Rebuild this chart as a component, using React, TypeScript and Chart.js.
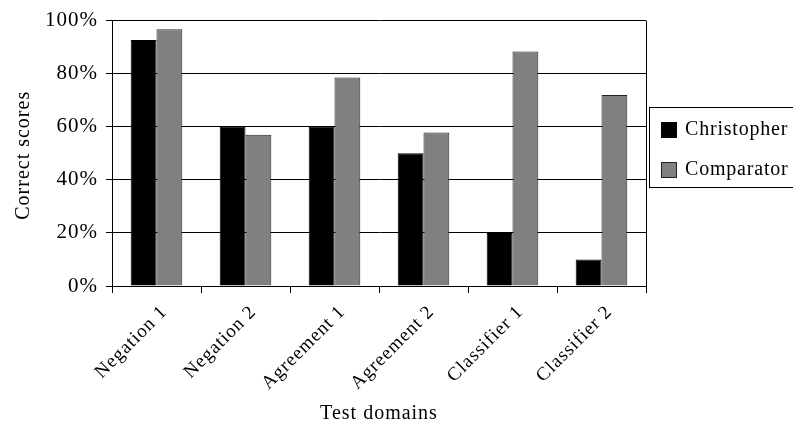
import React, { useEffect, useRef } from "react";
import { Chart, registerables } from "chart.js";

Chart.register(...registerables);

const categories = ["Negation 1", "Negation 2", "Agreement 1", "Agreement 2", "Classifier 1", "Classifier 2"];
const christopher = [92.7, 60, 60, 50, 20, 10];
const comparator = [96.7, 57, 78.6, 57.8, 88.4, 72];
const seriesNames = ["Christopher", "Comparator"];
const yTicks = [0, 20, 40, 60, 80, 100];
const yTitle = "Correct scores";
const xTitle = "Test domains";

const FONT = "'Liberation Serif', 'Times New Roman', serif";
const SPACING = "1px";

const spacingPlugin = {
  id: "spacing",
  beforeUpdate(chart: any) {
    chart.ctx.letterSpacing = SPACING;
  },
  beforeLayout(chart: any) {
    chart.ctx.letterSpacing = SPACING;
  },
  beforeDraw(chart: any) {
    chart.ctx.letterSpacing = SPACING;
  },
};

const framePlugin = {
  id: "frame",
  afterDraw(chart: any) {
    const ctx = chart.ctx;
    const a = chart.chartArea;
    ctx.save();
    ctx.strokeStyle = "#000";
    ctx.lineWidth = 1;
    // right border of plot
    ctx.beginPath();
    ctx.moveTo(Math.round(a.right) + 0.5, a.top);
    ctx.lineTo(Math.round(a.right) + 0.5, a.bottom);
    ctx.stroke();

    // y axis title
    ctx.save();
    ctx.letterSpacing = SPACING;
    ctx.font = `20px ${FONT}`;
    ctx.fillStyle = "#000";
    ctx.textAlign = "center";
    ctx.textBaseline = "middle";
    ctx.translate(24, (a.top + a.bottom) / 2 + 2);
    ctx.rotate(-Math.PI / 2);
    ctx.fillText(yTitle, 0, 0);
    ctx.restore();

    // legend box
    const bx = a.right + 3;
    const by = 107.5;
    const bw = 200;
    const bh = 80;
    ctx.strokeStyle = "#000";
    ctx.strokeRect(Math.round(bx) + 0.5, by, bw, bh);
    ctx.letterSpacing = "0.8px";
    ctx.font = `20px ${FONT}`;
    ctx.textBaseline = "middle";
    ctx.textAlign = "left";
    chart.data.datasets.forEach((ds: any, i: number) => {
      const sy = 122 + i * 40;
      ctx.fillStyle = ds.backgroundColor;
      ctx.fillRect(bx + 12, sy, 16, 16);
      ctx.strokeStyle = ds.borderColor;
      ctx.strokeRect(bx + 12.5, sy + 0.5, 15, 15);
      ctx.fillStyle = "#000";
      ctx.fillText(ds.label, bx + 36, sy + 8);
    });
    ctx.restore();
  },
};

export default function App() {
  const ref = useRef<HTMLCanvasElement>(null);
  useEffect(() => {
    if (!ref.current) return;
    const chart = new Chart(ref.current, {
      type: "bar",
      data: {
        labels: categories,
        datasets: [
          {
            label: seriesNames[0],
            data: christopher,
            backgroundColor: "#000000",
            borderColor: "#000000",
            borderWidth: 1,
            categoryPercentage: 0.58,
            barPercentage: 1,
          },
          {
            label: seriesNames[1],
            data: comparator,
            backgroundColor: "#808080",
            borderColor: "#222222",
            borderWidth: 1,
            categoryPercentage: 0.58,
            barPercentage: 1,
          },
        ],
      },
      options: {
        responsive: false,
        animation: false,
        devicePixelRatio: 1,
        layout: { padding: { left: 0, top: 15, right: 147, bottom: 0 } },
        plugins: {
          legend: { display: false },
          tooltip: { enabled: false },
        },
        scales: {
          x: {
            afterFit(scale: any) {
              scale.height = 142;
            },
            grid: {
              display: true,
              drawOnChartArea: false,
              drawTicks: true,
              tickLength: 7,
              color: "#000",
              lineWidth: 1,
              offset: true,
            },
            border: { display: true, color: "#000", width: 1 },
            ticks: {
              color: "#000",
              font: { family: FONT, size: 19 },
              minRotation: 45,
              maxRotation: 45,
              padding: 8,
              labelOffset: 8,
            },
            title: {
              display: true,
              text: xTitle,
              color: "#000",
              font: { family: FONT, size: 20 },
              padding: { top: 0, bottom: 2 },
            },
          },
          y: {
            min: 0,
            max: 100,
            afterFit(scale: any) {
              scale.width = 112;
            },
            afterBuildTicks(scale: any) {
              scale.ticks = yTicks.map((v) => ({ value: v }));
            },
            grid: {
              color: "#000",
              lineWidth: 1,
              drawTicks: true,
              tickLength: 6,
            },
            border: { display: true, color: "#000", width: 1 },
            ticks: {
              color: "#000",
              font: { family: FONT, size: 21 },
              padding: 8,
              callback: (v: any) => v + "%",
            },
          },
        },
      },
      plugins: [spacingPlugin, framePlugin],
    } as any);
    return () => chart.destroy();
  }, []);
  return (
    <div style={{ position: "absolute", left: 0, top: 0, width: 793, height: 428 }}>
      <canvas ref={ref} width={793} height={428} style={{ width: 793, height: 428, display: "block" }} />
    </div>
  );
}
